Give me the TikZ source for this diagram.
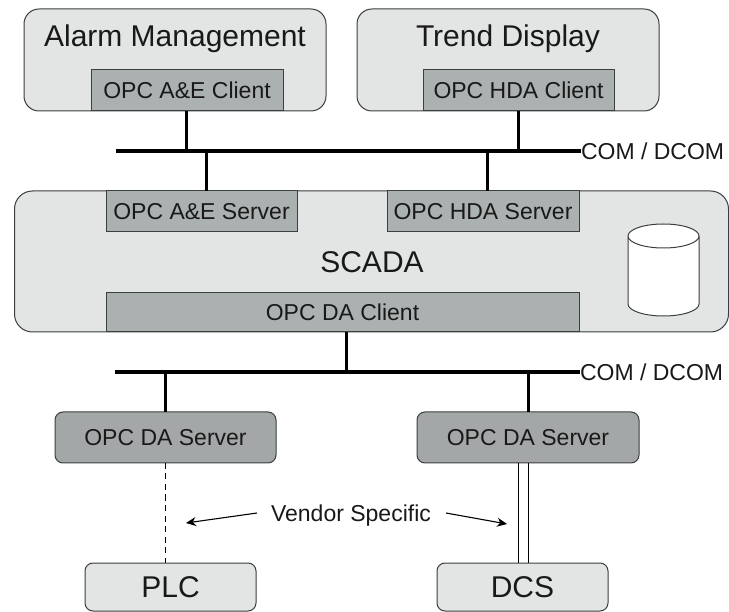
\documentclass[tikz,border=0pt]{standalone}
\usepackage{fontspec}
\setmainfont{Liberation Sans}
\usetikzlibrary{arrows.meta}
\definecolor{lightbox}{HTML}{E3E5E5}
\definecolor{midbox}{HTML}{ABB0B0}
\definecolor{darkbox}{HTML}{A3A7A7}
\definecolor{edgecol}{HTML}{3C3F3F}
\tikzset{
  x=1pt,y=-1pt,
  every node/.style={inner sep=0pt,outer sep=0pt,text=black!90},
  appbox/.style={draw=edgecol,line width=1pt,fill=lightbox,rounded corners=15pt,anchor=center},
  fieldbox/.style={draw=edgecol,line width=1pt,fill=lightbox,rounded corners=8pt,anchor=center},
  opcbox/.style={draw=edgecol,line width=1pt,fill=midbox,anchor=center},
  srvbox/.style={draw=edgecol,line width=1pt,fill=darkbox,rounded corners=8pt,anchor=center},
  bus/.style={draw=black,line width=3.4pt},
  link/.style={draw=black,line width=3pt},
  thin link/.style={draw=black,line width=1pt},
  call/.style={draw=black,line width=1.1pt,-{Stealth[length=10pt,width=9pt]}},
  big/.style={font=\fontsize{30}{33}\selectfont},
  mid/.style={font=\fontsize{23}{26}\selectfont},
}
\begin{document}
\begin{tikzpicture}
\useasboundingbox (0,0) rectangle (729,612);
\fill[white] (0,0) rectangle (729,612);
% upper applications
\node[appbox,minimum width=302pt,minimum height=102pt] (alarm) at (175,60) {};
\node[appbox,minimum width=302pt,minimum height=102pt] (trend) at (508,60) {};
\node[big] (alarmtxt) at (175,39) {Alarm Management};
\node[big] (trendtxt) at (508,39) {Trend Display};
\node[opcbox,minimum width=192pt,minimum height=41pt,mid] (aec) at (187,90.5) {OPC A\&E Client};
\node[opcbox,minimum width=191pt,minimum height=41pt,mid] (hdac) at (518.5,90.5) {OPC HDA Client};
% SCADA
\node[appbox,rounded corners=18pt,minimum width=714pt,minimum height=141pt] (scada) at (371.5,261.5) {};
\node[opcbox,minimum width=191pt,minimum height=41pt,mid] (aes) at (201.5,211.5) {OPC A\&E Server};
\node[opcbox,minimum width=192pt,minimum height=41pt,mid] (hdas) at (483,211.5) {OPC HDA Server};
\node[opcbox,minimum width=473pt,minimum height=39pt,mid] (dac) at (342.5,312.5) {OPC DA Client};
\node[big] (scadatxt) at (372,262) {SCADA};
% database cylinder
\path[draw=edgecol,line width=1pt,fill=white] (628,236) -- (628,304)
  arc[start angle=180,end angle=360,x radius=35.5pt,y radius=12pt] -- (699,236)
  arc[start angle=0,end angle=180,x radius=35.5pt,y radius=12pt]
  arc[start angle=180,end angle=360,x radius=35.5pt,y radius=12pt];
% buses
\coordinate (b1l) at (116,151);
\coordinate (b2l) at (115,372);
\coordinate (j1) at (206,151);
\coordinate (j2) at (487,151);
\node[mid,anchor=west] (com1) at (581,151.5) {COM / DCOM};
\node[mid,anchor=west] (com2) at (580,372.5) {COM / DCOM};
\draw[bus] (b1l) -- (b1l -| com1.west);
\draw[bus] (b2l) -- (b2l -| com2.west);
\draw[link] (aec.south) ++(-1,0) coordinate (aecj) -- (aecj |- b1l);
\draw[link] (hdac.south) -- (hdac.south |- b1l);
\draw[link] (j1) -- (j1 |- aes.north);
\draw[link] (j2) -- (j2 |- hdas.north);
\draw[link] (dac.south) ++(3.5,0) coordinate (dacj) -- (dacj |- b2l);
% lower servers and devices
\node[srvbox,minimum width=221pt,minimum height=51pt,mid] (ds1) at (165.5,437.5) {OPC DA Server};
\node[srvbox,minimum width=222pt,minimum height=51pt,mid] (ds2) at (528,437.5) {OPC DA Server};
\node[fieldbox,minimum width=171pt,minimum height=48pt,big] (plc) at (170.5,587) {PLC};
\node[fieldbox,minimum width=171pt,minimum height=48pt,big] (dcs) at (522.5,587) {DCS};
\draw[link] (ds1.north) -- (ds1.north |- b2l);
\draw[link] (ds2.north) -- (ds2.north |- b2l);
\draw[thin link,dash pattern=on 6pt off 4.5pt] (ds1.south) -- (ds1.south |- plc.north);
\coordinate (d1) at (518,463);
\coordinate (d2) at (528,463);
\draw[thin link] (d1) -- (d1 |- dcs.north);
\draw[thin link] (d2) -- (d2 |- dcs.north);
\node[mid] (vs) at (351,516) {Vendor Specific};
\coordinate (al) at (257,513);
\coordinate (ale) at (186,523);
\coordinate (ar) at (446,513);
\coordinate (are) at (507,524);
\draw[call] (al) -- (ale);
\draw[call] (ar) -- (are);
\end{tikzpicture}
\end{document}
